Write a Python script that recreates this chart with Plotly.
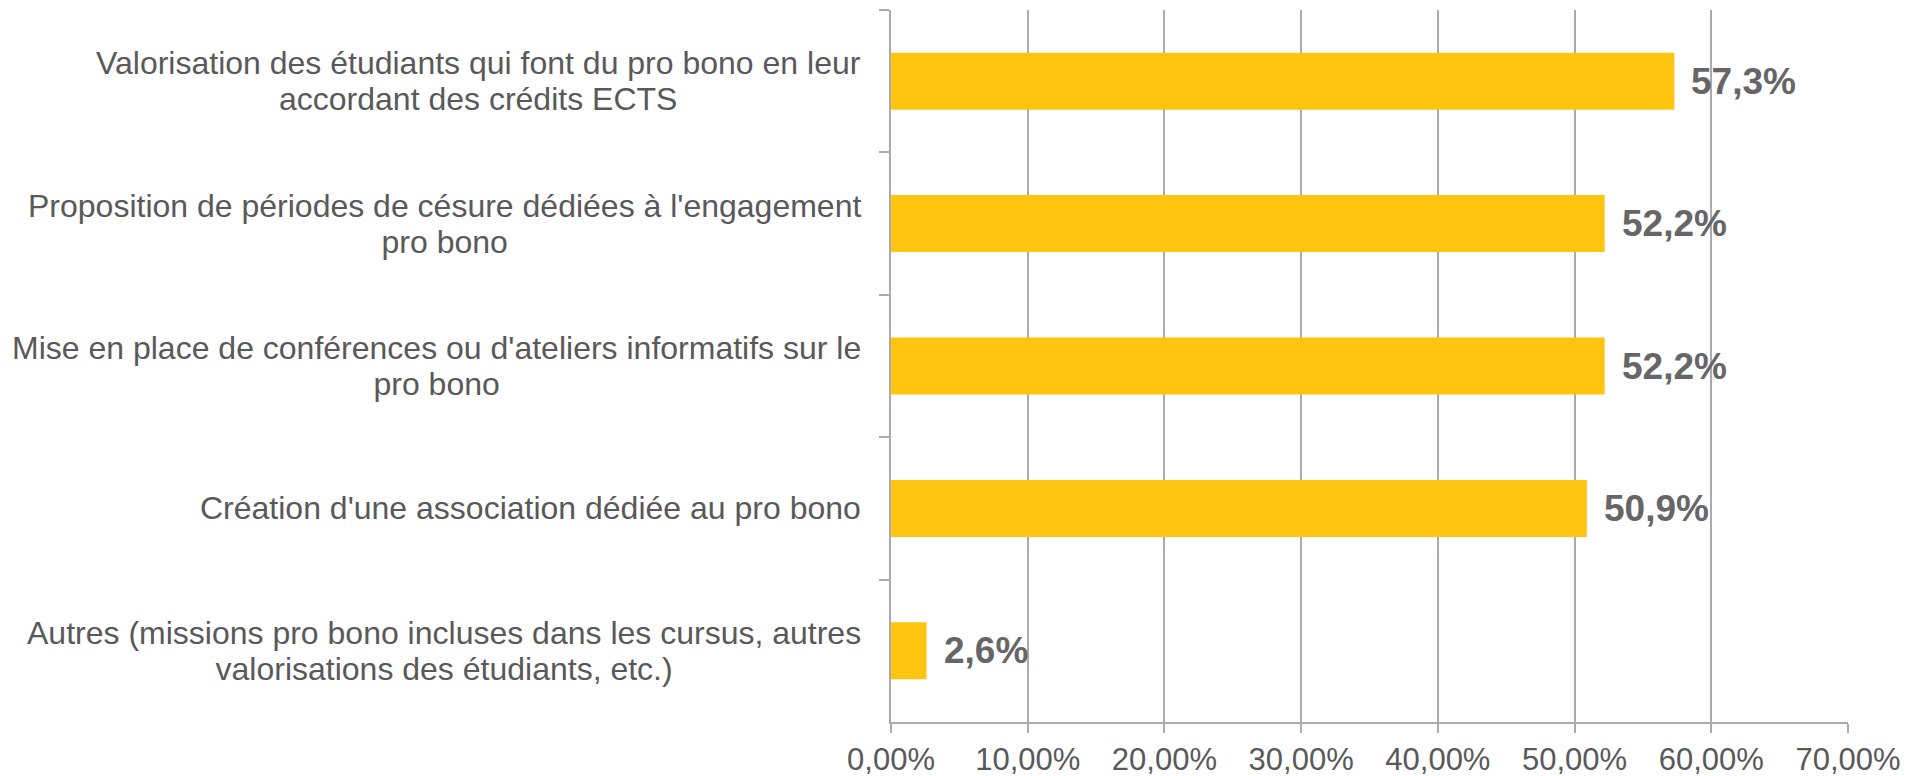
import plotly.graph_objects as go

categories = [
    "Valorisation des étudiants qui font du pro bono en leur<br>accordant des crédits ECTS",
    "Proposition de périodes de césure dédiées à l'engagement<br>pro bono",
    "Mise en place de conférences ou d'ateliers informatifs sur le<br>pro bono",
    "Création d'une association dédiée au pro bono",
    "Autres (missions pro bono incluses dans les cursus, autres<br>valorisations des étudiants, etc.)",
]
values = [0.573, 0.522, 0.522, 0.509, 0.026]
value_labels = ["57,3%", "52,2%", "52,2%", "50,9%", "2,6%"]
keys = ["c0", "c1", "c2", "c3", "c4"]

BAR = "#FFC40F"
GRID = "#ABABAB"
TXT = "#595959"
FONT = "Liberation Sans, Arial, sans-serif"

fig = go.Figure(go.Bar(
    x=values, y=keys, orientation="h",
    marker=dict(color=BAR, line=dict(width=0)),
    hoverinfo="skip",
))

annotations = []
for k, c in zip(keys, categories):
    txt = "<br>".join('<span style="font-size:32px">' + ln + "</span>" for ln in c.split("<br>"))
    annotations.append(dict(
        x=0, y=k, xref="x", yref="y", text=txt, showarrow=False,
        xanchor="right", yanchor="middle", align="center", xshift=-28,
        font=dict(family=FONT, size=27.7, color=TXT),
    ))
for k, v, t in zip(keys, values, value_labels):
    annotations.append(dict(
        x=v, y=k, xref="x", yref="y", text="<b>" + t + "</b>", showarrow=False,
        xanchor="left", yanchor="middle", xshift=15,
        font=dict(family=FONT, size=37, color="#666666"),
    ))

fig.update_layout(
    width=1921, height=776,
    margin=dict(l=891, r=73, t=10, b=54, autoexpand=False),
    paper_bgcolor="white", plot_bgcolor="white",
    bargap=0.6, showlegend=False,
    separators=", ",
    font=dict(family=FONT, color=TXT),
    annotations=annotations,
    xaxis=dict(
        range=[0, 0.7], dtick=0.1, tick0=0, tickformat=".2%",
        showgrid=True, gridcolor=GRID, gridwidth=2,
        showline=True, linecolor=GRID, linewidth=2,
        ticks="outside", ticklen=9, tickwidth=2, tickcolor=GRID,
        zeroline=False, automargin=False,
        tickfont=dict(family=FONT, size=31, color=TXT),
    ),
    yaxis=dict(
        range=[4.5, -0.5], type="category",
        showticklabels=False, showgrid=False, zeroline=False,
        showline=True, linecolor=GRID, linewidth=2,
        ticks="outside", ticklen=10, tickwidth=2, tickcolor=GRID,
        tickson="boundaries", automargin=False,
    ),
)

fig.write_html(
    "out.html",
    config={"displayModeBar": False},
    post_script="document.body.style.margin='0';document.body.style.overflow='hidden';",
)
